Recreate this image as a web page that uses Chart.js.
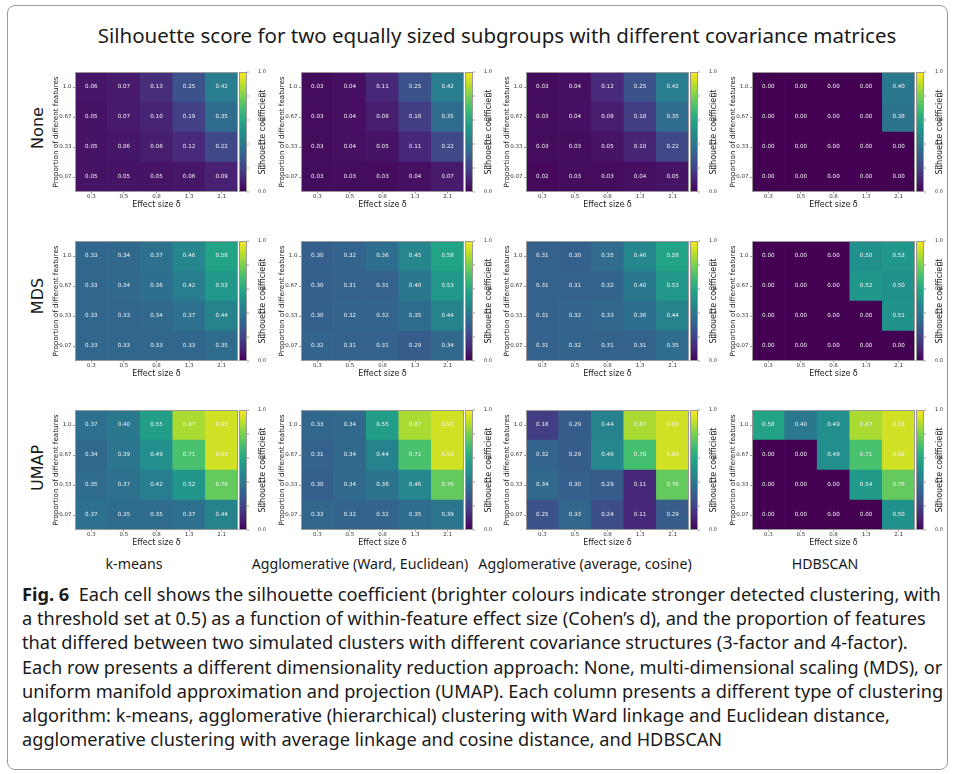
<!DOCTYPE html>
<html>
<head>
<meta charset="utf-8">
<script src="https://cdn.jsdelivr.net/npm/chart.js@4.4.0/dist/chart.umd.min.js"></script>
<style>
  body { margin: 0; background: #fff; width: 953px; height: 774px; position: relative; overflow: hidden; font-family: 'Noto Sans', sans-serif; color: #1a1a1a; }
  #frame { position: absolute; left: 7px; top: 5px; width: 939px; height: 763px; border: 1px solid #9a9a9a; border-radius: 8px; }
  #title { position: absolute; left: 60px; width: 874px; top: 21px; font-size: 20.5px; line-height: 28px; text-align: center; white-space: nowrap; }
  .panel { position: absolute; }
  .rowlab { position: absolute; font-family: 'DejaVu Sans', sans-serif; font-size: 16px; transform: translate(-50%, -50%) rotate(-90deg); white-space: nowrap; }
  .collab { position: absolute; top: 554px; font-size: 14.2px; line-height: 19px; transform: translateX(-50%); white-space: nowrap; }
  #caption { position: absolute; left: 22px; top: 582px; font-size: 18.2px; line-height: 24.2px; white-space: nowrap; }
  #caption b { font-weight: 700; }
</style>
</head>
<body>
<div id="frame"></div>
<div id="title">Silhouette score for two equally sized subgroups with different covariance matrices</div>
<div id="panels"></div>
<div id="caption"><b>Fig. 6</b>&nbsp; Each cell shows the silhouette coefficient (brighter colours indicate stronger detected clustering, with<br>a threshold set at 0.5) as a function of within-feature effect size (Cohen’s d), and the proportion of features<br>that differed between two simulated clusters with different covariance structures (3-factor and 4-factor).<br>Each row presents a different dimensionality reduction approach: None, multi-dimensional scaling (MDS), or<br>uniform manifold approximation and projection (UMAP). Each column presents a different type of clustering<br>algorithm: k-means, agglomerative (hierarchical) clustering with Ward linkage and Euclidean distance,<br>agglomerative clustering with average linkage and cosine distance, and HDBSCAN</div>
<script>
// axes of every heatmap
const effectSizes = ['0.3', '0.5', '0.8', '1.3', '2.1'];
const proportions = ['1.0', '0.67', '0.33', '0.07']; // top to bottom
const reductions = ['None', 'MDS', 'UMAP'];
const methods = ['k-means', 'Agglomerative (Ward, Euclidean)', 'Agglomerative (average, cosine)', 'HDBSCAN'];

// silhouette scores, rows top to bottom (1.0, 0.67, 0.33, 0.07)
const noneKmeans = [[0.06, 0.07, 0.13, 0.25, 0.42], [0.05, 0.07, 0.10, 0.19, 0.35], [0.05, 0.06, 0.08, 0.12, 0.22], [0.05, 0.05, 0.05, 0.06, 0.09]];
const noneWard = [[0.03, 0.04, 0.11, 0.25, 0.42], [0.03, 0.04, 0.08, 0.18, 0.35], [0.03, 0.04, 0.05, 0.11, 0.22], [0.03, 0.03, 0.03, 0.04, 0.07]];
const noneAverage = [[0.03, 0.04, 0.12, 0.25, 0.42], [0.03, 0.04, 0.08, 0.18, 0.35], [0.03, 0.03, 0.05, 0.10, 0.22], [0.02, 0.03, 0.03, 0.04, 0.05]];
const noneHdbscan = [[0.00, 0.00, 0.00, 0.00, 0.40], [0.00, 0.00, 0.00, 0.00, 0.38], [0.00, 0.00, 0.00, 0.00, 0.00], [0.00, 0.00, 0.00, 0.00, 0.00]];
const mdsKmeans = [[0.33, 0.34, 0.37, 0.46, 0.58], [0.33, 0.34, 0.36, 0.42, 0.53], [0.33, 0.33, 0.34, 0.37, 0.44], [0.33, 0.33, 0.33, 0.33, 0.35]];
const mdsWard = [[0.30, 0.32, 0.36, 0.45, 0.58], [0.30, 0.31, 0.31, 0.40, 0.53], [0.30, 0.32, 0.32, 0.35, 0.44], [0.32, 0.31, 0.31, 0.29, 0.34]];
const mdsAverage = [[0.31, 0.30, 0.35, 0.46, 0.58], [0.31, 0.31, 0.32, 0.40, 0.53], [0.31, 0.32, 0.33, 0.36, 0.44], [0.31, 0.32, 0.31, 0.31, 0.35]];
const mdsHdbscan = [[0.00, 0.00, 0.00, 0.50, 0.53], [0.00, 0.00, 0.00, 0.52, 0.50], [0.00, 0.00, 0.00, 0.00, 0.51], [0.00, 0.00, 0.00, 0.00, 0.00]];
const umapKmeans = [[0.37, 0.40, 0.55, 0.87, 0.93], [0.34, 0.39, 0.49, 0.71, 0.93], [0.35, 0.37, 0.42, 0.52, 0.76], [0.37, 0.35, 0.35, 0.37, 0.44]];
const umapWard = [[0.33, 0.34, 0.55, 0.87, 0.93], [0.31, 0.34, 0.44, 0.71, 0.93], [0.30, 0.34, 0.38, 0.46, 0.76], [0.33, 0.32, 0.32, 0.35, 0.39]];
const umapAverage = [[0.18, 0.29, 0.44, 0.87, 0.93], [0.32, 0.29, 0.46, 0.70, 0.93], [0.34, 0.30, 0.29, 0.11, 0.76], [0.25, 0.33, 0.24, 0.11, 0.29]];
const umapHdbscan = [[0.58, 0.40, 0.49, 0.87, 0.93], [0.00, 0.00, 0.49, 0.71, 0.93], [0.00, 0.00, 0.00, 0.54, 0.76], [0.00, 0.00, 0.00, 0.00, 0.50]];

const grid = [
  [noneKmeans, noneWard, noneAverage, noneHdbscan],
  [mdsKmeans, mdsWard, mdsAverage, mdsHdbscan],
  [umapKmeans, umapWard, umapAverage, umapHdbscan],
];

// viridis colormap stops (0, 0.1, ..., 1)
const viridisStops = [
  [68, 1, 84], [72, 36, 117], [65, 68, 135], [53, 95, 141], [42, 120, 142], [33, 145, 140],
  [34, 168, 132], [68, 191, 112], [122, 209, 81], [189, 223, 38], [253, 231, 37]
];
const rgb = c => `rgb(${c[0]},${c[1]},${c[2]})`;
function viridis(v) {
  const t = Math.min(Math.max(v, 0), 1) * (viridisStops.length - 1);
  const i = Math.min(Math.floor(t), viridisStops.length - 2);
  const f = t - i, a = viridisStops[i], b = viridisStops[i + 1];
  return rgb([0, 1, 2].map(k => Math.round(a[k] + (b[k] - a[k]) * f)));
}

Chart.defaults.font.family = "'DejaVu Sans', sans-serif";
Chart.defaults.color = '#333';

// cell numbers, frame and colorbar
const heatmapExtras = {
  id: 'heatmapExtras',
  afterDatasetsDraw(chart) {
    const ctx = chart.ctx, area = chart.chartArea;
    ctx.save();
    ctx.font = "5.6px 'DejaVu Sans'";
    ctx.fillStyle = '#f4f4f4';
    ctx.textAlign = 'center';
    ctx.textBaseline = 'middle';
    chart.data.datasets.forEach((ds, i) => {
      chart.getDatasetMeta(i).data.forEach((bar, j) => {
        ctx.fillText(ds.scores[j].toFixed(2), bar.x, (bar.y + bar.base) / 2);
      });
    });

    ctx.strokeStyle = '#9a9a9a';
    ctx.lineWidth = 1;
    ctx.strokeRect(area.left + 0.5, area.top + 0.5, area.width - 1, area.height - 1);

    const cb = chart.scales.cb;
    const x0 = cb.left + 1, w = 8;
    const yTop = cb.getPixelForValue(1), yBot = cb.getPixelForValue(0);
    const grad = ctx.createLinearGradient(0, yBot, 0, yTop);
    viridisStops.forEach((c, k) => grad.addColorStop(k / (viridisStops.length - 1), rgb(c)));
    ctx.fillStyle = grad;
    ctx.fillRect(x0, yTop, w, yBot - yTop);
    ctx.strokeRect(x0 + 0.5, yTop + 0.5, w - 1, yBot - yTop - 1);
    ctx.strokeStyle = '#555';
    ctx.lineWidth = 0.6;
    cb.ticks.forEach(t => {
      const y = cb.getPixelForValue(t.value);
      ctx.beginPath();
      ctx.moveTo(x0 + w, y);
      ctx.lineTo(x0 + w + 2, y);
      ctx.stroke();
    });

    ctx.translate(cb.left + 24.5, (area.top + area.bottom) / 2);
    ctx.rotate(-Math.PI / 2);
    ctx.font = "8px 'DejaVu Sans'";
    ctx.fillStyle = '#222';
    ctx.fillText('Silhouette coefficient', 0, 0);
    ctx.restore();
  }
};

function makePanel(canvas, scores) {
  const bottomUp = scores.slice().reverse();
  return new Chart(canvas, {
    type: 'bar',
    plugins: [heatmapExtras],
    data: {
      labels: effectSizes,
      datasets: bottomUp.map(row => ({
        data: row.map(() => 1),
        scores: row,
        backgroundColor: row.map(viridis),
        borderWidth: 0,
        barPercentage: 1,
        categoryPercentage: 1,
      })),
    },
    options: {
      responsive: false,
      devicePixelRatio: 1,
      animation: false,
      layout: { padding: { top: 4, left: 0, right: 0, bottom: 0 } },
      plugins: { legend: { display: false }, tooltip: { enabled: false } },
      scales: {
        x: {
          stacked: true,
          afterFit: s => { s.height = 18; },
          grid: { drawOnChartArea: false, offset: false, tickLength: 1.5, color: '#555', lineWidth: 0.6 },
          border: { display: false },
          ticks: { font: { size: 5.5 }, padding: 0, maxRotation: 0 },
          title: { display: true, text: 'Effect size δ', font: { size: 8 }, color: '#222', padding: 0 },
        },
        y: {
          stacked: true,
          min: 0,
          max: 4,
          afterFit: s => { s.width = 28; },
          afterBuildTicks: s => { s.ticks = [0.5, 1.5, 2.5, 3.5].map(v => ({ value: v })); },
          grid: { drawOnChartArea: false, tickLength: 2, color: '#555', lineWidth: 0.6 },
          border: { display: false },
          ticks: { font: { size: 5.5 }, padding: 1.5, callback: v => proportions[3 - Math.floor(v)] },
          title: { display: true, text: 'Proportion of different features', font: { size: 7.2 }, color: '#222', padding: { top: 5, bottom: 0 } },
        },
        cb: {
          type: 'linear',
          display: true,
          position: 'right',
          min: 0,
          max: 1,
          afterFit: s => { s.width = 30; },
          grid: { display: false },
          border: { display: false },
          ticks: { stepSize: 0.2, font: { size: 5 }, padding: 12, callback: v => v.toFixed(1) },
        },
      },
    },
  });
}

// heatmap (plot area) positions on the page
const colLefts = [75, 301, 526, 752];
const rowTops = [61, 230, 399];
const panels = document.getElementById('panels');
grid.forEach((row, r) => {
  row.forEach((scores, c) => {
    const cv = document.createElement('canvas');
    cv.className = 'panel';
    cv.width = 28 + 163 + 30;
    cv.height = 4 + 131 + 18;
    cv.style.left = (colLefts[c] - 28) + 'px';
    cv.style.top = (rowTops[r] - 4) + 'px';
    panels.appendChild(cv);
    makePanel(cv, scores);
  });
});

const rowCenters = [128, 296, 468];
reductions.forEach((name, r) => {
  const d = document.createElement('div');
  d.className = 'rowlab';
  d.textContent = name;
  d.style.left = '37px';
  d.style.top = rowCenters[r] + 'px';
  document.body.appendChild(d);
});

const colCenters = [134, 360, 585, 825];
methods.forEach((name, c) => {
  const d = document.createElement('div');
  d.className = 'collab';
  d.textContent = name;
  d.style.left = colCenters[c] + 'px';
  document.body.appendChild(d);
});
</script>
</body>
</html>
